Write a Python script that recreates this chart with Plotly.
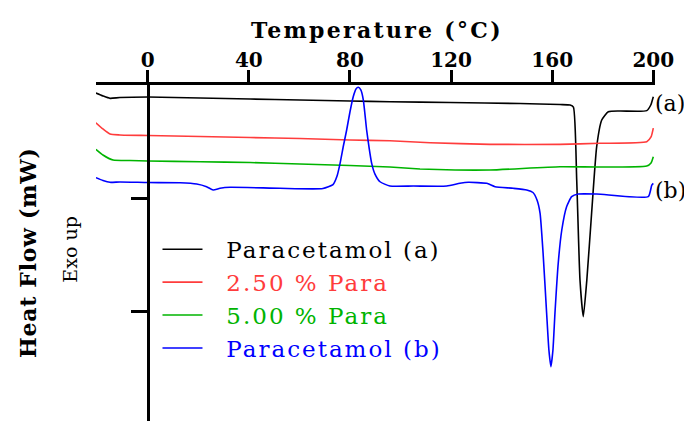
import plotly.graph_objects as go

# ---- data (temperature in °C, heat flow in arbitrary mW units, exo up) ----
t_a = [-20.5, -17.7, -14.9, -11.0, 0.1, 20.7, 40.5, 60.2, 80.0, 95.8, 119.6, 147.3, 163.1, 167.1,
       168.4, 169.7, 171.0, 172.3, 173.7, 175.6, 177.6, 179.6, 182.2, 186.8, 197.4, 199.0, 200.0]
hf_a = [-0.71, -0.97, -1.18, -1.11, -1.06, -1.15, -1.24, -1.33, -1.42, -1.48, -1.55, -1.64, -1.73, -1.77,
        -1.95, -8.41, -17.26, -20.50, -17.26, -11.33, -5.46, -3.10, -2.36, -2.30, -2.27, -1.77, -1.04]

t_r = [-20.5, -17.7, -14.9, -11.0, 0.1, 20.7, 40.5, 60.2, 80.0, 95.8, 111.7, 135.4, 163.1, 178.9,
       197.4, 199.1, 200.0]
hf_r = [-3.34, -3.89, -4.34, -4.42, -4.47, -4.56, -4.65, -4.73, -4.87, -4.93, -5.11, -5.25, -5.25, -5.16,
        -5.02, -4.60, -3.81]

t_g = [-20.5, -17.7, -13.7, -7.0, 0.1, 20.7, 40.5, 60.2, 80.0, 95.8, 107.7, 121.6, 135.4, 163.1,
       178.9, 197.4, 199.1, 200.0]
hf_g = [-5.69, -6.19, -6.64, -6.68, -6.73, -6.79, -6.86, -6.99, -7.12, -7.26, -7.43, -7.52, -7.52, -7.23,
        -7.26, -7.17, -6.90, -6.35]

t_b = [-20.5, -17.7, -14.9, -11.0, 0.1, 12.8, 19.4, 23.3, 25.9, 28.6, 32.6, 52.3, 69.3, 73.3, 74.9,
       76.1, 77.4, 78.7, 80.0, 81.3, 82.4, 83.3, 84.3, 85.3, 86.6, 87.6, 88.6, 89.9, 91.9, 95.8,
       105.1, 118.3, 123.5, 126.8, 134.1, 137.4, 144.6, 149.9, 152.4, 154.0, 155.2, 156.4, 157.8,
       158.7, 159.5, 160.3, 161.1, 162.4, 163.8, 165.7, 167.7, 170.3, 177.6, 198.0, 199.4, 200.0]
hf_b = [-8.20, -8.45, -8.61, -8.58, -8.63, -8.65, -8.76, -9.00, -9.29, -9.14, -9.05, -9.14, -9.16, -8.81, -8.05,
        -6.93, -5.40, -3.98, -2.39, -1.04, -0.35, -0.20, -0.44, -1.33, -3.98, -5.58, -6.93, -7.88, -8.56, -8.94,
        -8.94, -8.94, -8.70, -8.61, -8.70, -9.00, -9.14, -9.29, -9.51, -10.18, -11.33, -14.87, -20.18,
        -23.45, -24.93, -23.45, -20.18, -15.75, -12.83, -10.77, -9.88, -9.65, -9.65, -9.88, -8.85, -8.70]

series_names = ["Paracetamol (a)", "2.50 % Para", "5.00 % Para", "Paracetamol (b)"]
series_colors = ["#000000", "#ff3c3c", "#00b400", "#0000ff"]
x_ticks = [0, 40, 80, 120, 160, 200]
y_ticks = [-10, -20]

FONT = "DejaVu Serif"

fig = go.Figure()
for (tx, hy), name, col in zip([(t_a, hf_a), (t_r, hf_r), (t_g, hf_g), (t_b, hf_b)],
                                series_names, series_colors):
    fig.add_trace(go.Scatter(
        x=tx, y=hy, mode="lines",
        name=f"\u2002\u00a0<span style='color:{col};letter-spacing:2px'>{name}</span>",
        line=dict(color=col, width=1.6, shape="spline", smoothing=0.5),
        hoverinfo="skip"))

fig.update_layout(
    width=684, height=413,
    margin=dict(l=88, r=37, t=77, b=0, pad=0),
    paper_bgcolor="white", plot_bgcolor="white",
    font=dict(family=FONT, color="black"),
    showlegend=True,
    legend=dict(x=0.11, y=0.575, xanchor="left", yanchor="top",
                font=dict(family=FONT, size=23), bgcolor="rgba(0,0,0,0)",
                itemwidth=40, tracegroupgap=0),
    xaxis=dict(range=[-20.45, 200.67], side="top", showgrid=False, zeroline=False,
               showline=True, linecolor="black", linewidth=3,
               ticks="outside", ticklen=12, tickwidth=3, tickcolor="black",
               tickvals=x_ticks, ticktext=[str(v) for v in x_ticks], ticklabelstandoff=-5,
               tickfont=dict(family=FONT, size=20, weight="bold")),
    yaxis=dict(range=[-29.73, 0], anchor="free", position=0.0925, showgrid=False, zeroline=False,
               showline=True, linecolor="black", linewidth=3,
               ticks="outside", ticklen=16, tickwidth=3, tickcolor="black",
               tickvals=y_ticks, showticklabels=False),
)

# x-axis title (placed above the tick labels)
fig.add_annotation(text="<b><span style='letter-spacing:2.3px'>Temperature (°C)</span></b>",
                   xref="paper", yref="paper", xanchor="center", yanchor="middle",
                   x=(377 - 96) / 559, y=1 + (85 - 30) / 336, showarrow=False,
                   font=dict(family=FONT, size=22, color="black"))
fig.add_annotation(text="<b><span style='letter-spacing:0.7px'>Heat Flow (mW)</span></b>",
                   xref="paper", yref="paper", xanchor="center", yanchor="middle",
                   x=(28 - 96) / 559, y=0.5, textangle=-90, showarrow=False,
                   font=dict(family=FONT, size=22, color="black"))
fig.add_annotation(text="Exo up", xref="paper", yref="paper", xanchor="center", yanchor="middle",
                   x=(70 - 96) / 559, y=0.51, textangle=-90, showarrow=False,
                   font=dict(family=FONT, size=19, color="black"))
fig.add_annotation(text="(a)", xref="paper", yref="y",
                   x=1, y=-1.6, xanchor="left", xshift=-2,
                   showarrow=False, font=dict(family=FONT, size=22, color="black"))
fig.add_annotation(text="(b)", xref="paper", yref="y",
                   x=1, y=-9.3, xanchor="left", xshift=-2,
                   showarrow=False, font=dict(family=FONT, size=22, color="black"))

fig.write_html("out.html")
